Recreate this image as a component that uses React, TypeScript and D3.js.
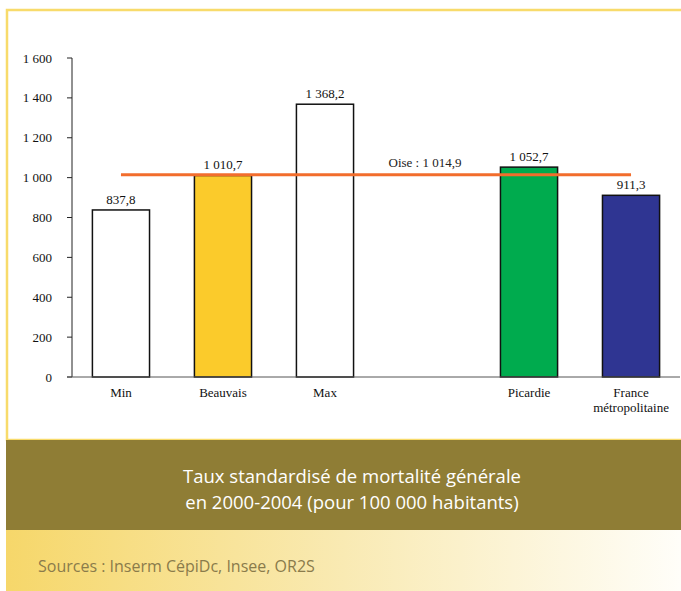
import React from "react";
import * as d3 from "d3";

const categories = ["Min", "Beauvais", "Max", "", "Picardie", "France|métropolitaine"];
const values: (number | null)[] = [837.8, 1010.7, 1368.2, null, 1052.7, 911.3];
const barColors = ["#ffffff", "#FBCB2B", "#ffffff", "none", "#00AB4E", "#2F3592"];
const referenceLabel = "Oise";
const referenceValue = 1014.9;
const yTicks = [0, 200, 400, 600, 800, 1000, 1200, 1400, 1600];
const titleLines = ["Taux standardisé de mortalité générale", "en 2000-2004 (pour 100 000 habitants)"];
const sourceText = "Sources : Inserm CépiDc, Insee, OR2S";

const W = 681;
const H = 591;

const loc = d3.formatLocale({ decimal: ",", thousands: "\u00a0", grouping: [3], currency: ["", "€"] });
const fmtInt = loc.format(",d");
const fmtDec = loc.format(",.1f");

export default function App() {
  const x = d3.scaleBand<string>().domain(categories.map((c, i) => i + "")).range([72, 680]).paddingInner(0.44).paddingOuter(0.2);
  const y = d3.scaleLinear().domain([0, 1600]).range([377, 58]);
  const serif = "'Liberation Serif', 'Times New Roman', serif";
  const sans = "'Open Sans', 'Noto Sans', sans-serif";
  const x0 = (x("0") as number) + x.bandwidth() / 2;
  const x5 = (x("5") as number) + x.bandwidth() / 2;
  return (
    <svg width={W} height={H} style={{ position: "absolute", left: 0, top: 0, background: "#fff" }}>
      <defs>
        <linearGradient id="src" x1="0" x2="1" y1="0" y2="0">
          <stop offset="0" stopColor="#F6D76A" />
          <stop offset="0.5" stopColor="#F9EAB3" />
          <stop offset="1" stopColor="#FFFEF9" />
        </linearGradient>
      </defs>
      {/* frame */}
      <rect x={7} y={10} width={W} height={430} fill="#fff" stroke="#F8DB6B" strokeWidth={2.5} />
      {/* y axis */}
      <line x1={72} x2={72} y1={y(1600)} y2={y(0)} stroke="#222" strokeWidth={1} />
      {yTicks.map((t) => (
        <g key={t}>
          <line x1={67} x2={72} y1={y(t)} y2={y(t)} stroke="#222" strokeWidth={1} />
          <text x={52} y={y(t)} dy="0.35em" textAnchor="end" fontFamily={serif} fontSize={13} fill="#111">
            {fmtInt(t)}
          </text>
        </g>
      ))}
      {/* bars */}
      {values.map((v, i) =>
        v == null ? null : (
          <g key={i}>
            <rect x={x(i + "")} y={y(v)} width={x.bandwidth()} height={y(0) - y(v)} fill={barColors[i]} stroke="#111" strokeWidth={1.5} />
            <text x={(x(i + "") as number) + x.bandwidth() / 2} y={y(v) - 6} textAnchor="middle" fontFamily={serif} fontSize={13} fill="#111">
              {fmtDec(v)}
            </text>
          </g>
        )
      )}
      {/* baseline */}
      <line x1={67} x2={680} y1={y(0)} y2={y(0)} stroke="#555" strokeWidth={1} />
      {/* category labels */}
      {categories.map((c, i) => {
        const lines = c.split("|");
        return (
          <text key={i} x={(x(i + "") as number) + x.bandwidth() / 2} y={397} textAnchor="middle" fontFamily={serif} fontSize={13} fill="#111">
            {lines.map((l, j) => (
              <tspan key={j} x={(x(i + "") as number) + x.bandwidth() / 2} dy={j === 0 ? 0 : 15}>
                {l}
              </tspan>
            ))}
          </text>
        );
      })}
      {/* reference line */}
      <line x1={x0} x2={x5} y1={y(referenceValue)} y2={y(referenceValue)} stroke="#F26D2C" strokeWidth={3} />
      <text x={425} y={y(referenceValue) - 8} textAnchor="middle" fontFamily={serif} fontSize={13} fill="#222">
        {referenceLabel + " : " + fmtDec(referenceValue)}
      </text>
      {/* title band */}
      <rect x={6} y={440} width={W - 6} height={90} fill="#8F7D35" />
      {titleLines.map((t, i) => (
        <text key={i} x={352} y={483 + i * 26} textAnchor="middle" fontFamily={sans} fontSize={18.5} fill="#fff">
          {t}
        </text>
      ))}
      {/* sources band */}
      <rect x={6} y={530} width={W - 6} height={61} fill="url(#src)" />
      <text x={38} y={572} fontFamily={sans} fontSize={16} fill="#8A7B4B">
        {sourceText}
      </text>
    </svg>
  );
}
